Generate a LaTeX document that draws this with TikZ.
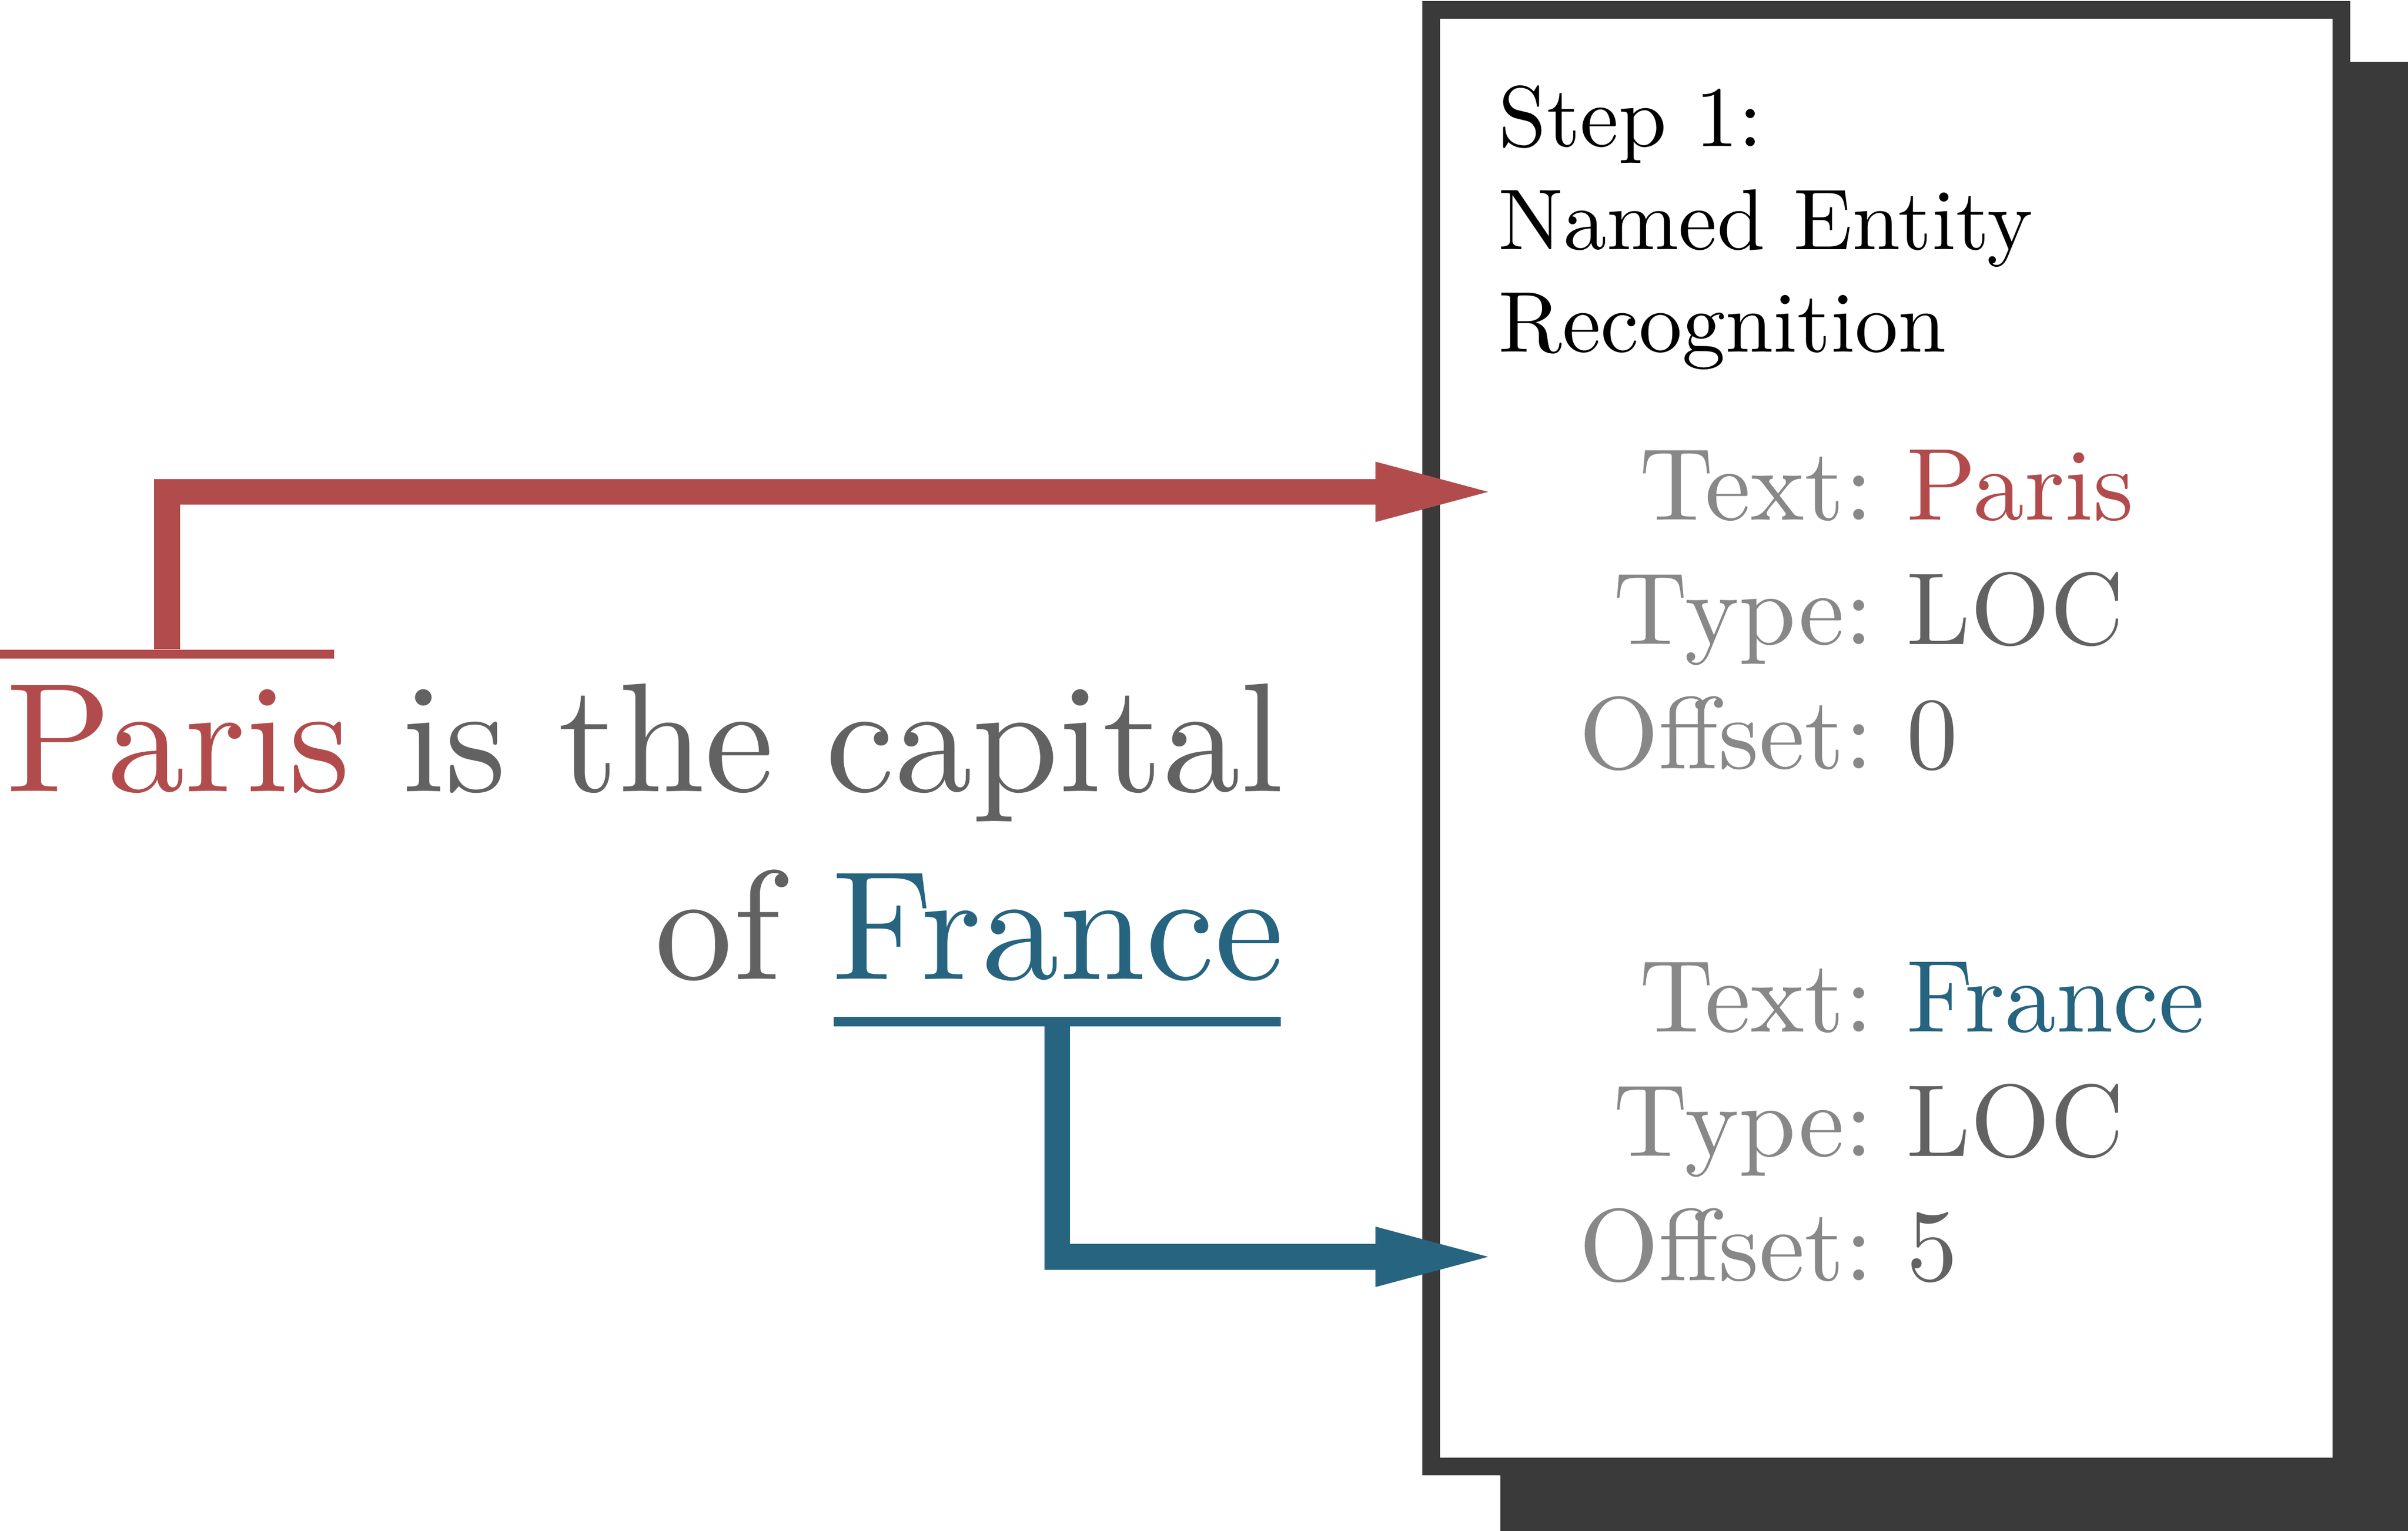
\documentclass[tikz,border=0pt]{standalone}
\usepackage{amsmath}
\usepackage{tikz}
\usetikzlibrary{arrows.meta}

\definecolor{boxgray}{RGB}{58,58,58}
\definecolor{parisred}{RGB}{178,76,76}
\definecolor{franceblue}{RGB}{38,100,128}
\definecolor{keygray}{RGB}{136,136,136}
\definecolor{wordgray}{RGB}{98,98,98}

\newcommand{\sentencefont}{\fontsize{10}{12}\selectfont}
\newcommand{\titlefont}{\fontsize{10}{11.9}\selectfont}
\newcommand{\entryfont}{\fontsize{10}{12.13}\selectfont}

\begin{document}
\begin{tikzpicture}[scale=1.0,
  pointer/.style={line width=1.67mm, -{Triangle[length=7.34mm,width=3.94mm,line width=0pt]}},
  underbar/.style={line width=0.6mm},
  entry/.style={inner sep=0pt, font=\entryfont, scale=1.9, transform shape},
  sentence/.style={inner sep=0pt, font=\sentencefont, scale=2.88, transform shape, text=wordgray}]
\useasboundingbox (0,0) rectangle (15.68,-9.973);
% Draw shadow and box
\fill [color=boxgray] (9.77,-0.404) rectangle (15.68,-9.973);
\draw [color=boxgray, fill=white, line width=1.15mm] (9.318,-0.065) rectangle (15.245,-9.552);
% Box title
\node (step title) [anchor=base west, inner sep=0pt, font=\titlefont, scale=1.60, transform shape] at (9.748,-0.954)
  {\begin{tabular}[t]{@{}l@{}}Step 1:\\Named Entity\\Recognition\end{tabular}};
% Entity Paris
\node (paris keys) [entry, anchor=base east, text=keygray] at (12.21,-3.388)
  {\begin{tabular}[t]{@{}r@{}}Text:\\Type:\\Offset:\end{tabular}};
\node (paris values) [entry, anchor=base west, text=wordgray] at (12.40,-3.388)
  {\begin{tabular}[t]{@{}l@{}}\textcolor{parisred}{Paris}\\LOC\\0\end{tabular}};
% Entity France
\node (france keys) [entry, anchor=base east, text=keygray] at (12.21,-6.72)
  {\begin{tabular}[t]{@{}r@{}}Text:\\Type:\\Offset:\end{tabular}};
\node (france values) [entry, anchor=base west, text=wordgray] at (12.40,-6.72)
  {\begin{tabular}[t]{@{}l@{}}\textcolor{franceblue}{France}\\LOC\\5\end{tabular}};
% Sentence
\node (line one) [sentence, anchor=base east] at (8.38,-5.157)
  {\textcolor{parisred}{Paris} is the capital};
\node (line two) [sentence, anchor=base east] at (8.38,-6.38)
  {of \textcolor{franceblue}{France}};
% Underbars
\draw [underbar, color=parisred] (0,-4.261) -- (2.175,-4.261);
\draw [underbar, color=franceblue] (5.43,-6.656) -- (8.34,-6.656);
% Arrows
\coordinate (paris bar) at (1.088,-4.23);
\coordinate (paris tip) at (9.69,-3.204);
\coordinate (france bar) at (6.885,-6.686);
\coordinate (france tip) at (9.69,-8.187);
\draw [pointer, color=parisred] (paris bar) |- (paris tip);
\draw [pointer, color=franceblue] (france bar) |- (france tip);
\end{tikzpicture}
\end{document}
